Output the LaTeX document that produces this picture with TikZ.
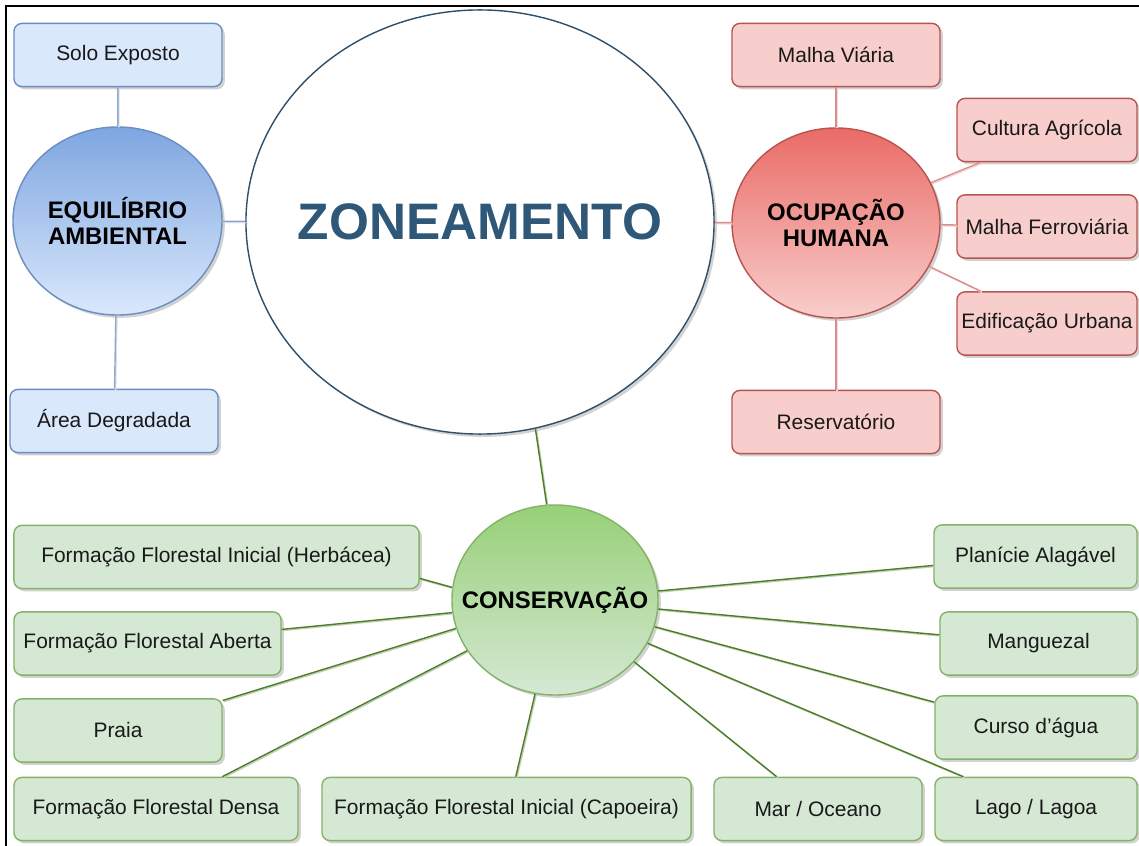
\documentclass[tikz,border=0pt]{standalone}
\usepackage{fontspec}
\setmainfont{Liberation Sans}
\tikzset{
every picture/.style={
line width=1pt
}}
\usetikzlibrary{shapes,shadows}

\definecolor{bluefill}{HTML}{DAE8FC}
\definecolor{blueline}{HTML}{6C8EBF}
\definecolor{bluetop}{HTML}{7EA6E0}
\definecolor{bluelink}{HTML}{8FA8C8}
\definecolor{redfill}{HTML}{F8CECC}
\definecolor{redline}{HTML}{B85450}
\definecolor{redtop}{HTML}{EA6B66}
\definecolor{redlink}{HTML}{D98F8D}
\definecolor{greenfill}{HTML}{D5E8D4}
\definecolor{greenline}{HTML}{82B366}
\definecolor{greentop}{HTML}{97D077}
\definecolor{greenlink}{HTML}{4D7C2A}
\definecolor{zoneline}{HTML}{2F4F6A}
\definecolor{zonetext}{HTML}{2F5878}

\begin{document}
\begin{tikzpicture}[x=0.025cm, y=-0.025cm,
box/.style = {rectangle, rounded corners=2mm, draw, inner sep=0pt, minimum height=1.58cm, text=black!90, font=\fontsize{14.9}{17}\selectfont, drop shadow={shadow xshift=2pt, shadow yshift=-2pt, fill=black!35}},
bluebox/.style = {box, draw=blueline, fill=bluefill},
redbox/.style = {box, draw=redline, fill=redfill},
greenbox/.style = {box, draw=greenline, fill=greenfill},
hub/.style = {ellipse, draw, inner sep=0pt, align=center, font=\fontsize{17}{18.5}\selectfont\bfseries, drop shadow={shadow xshift=2pt, shadow yshift=-2pt, fill=black!35}},
link/.style = {preaction={draw=#1!35, transform canvas={shift={(0.8pt,-0.8pt)}}}, draw=#1}]

\useasboundingbox (0,0) rectangle (1139,846);
\draw[line width=1.4pt] (6,846) -- (6,6) -- (1139,6);

\node[hub, draw=zoneline, fill=white, minimum width=11.7cm, minimum height=10.6cm, label={[font=\fontsize{36.5}{40}\selectfont\bfseries, text=zonetext]center:ZONEAMENTO}] (zone) at (480,222) {};

\node[hub, draw=blueline, top color=bluetop, bottom color=bluefill, minimum width=5.225cm, minimum height=4.7cm] (equil) at (117.5,221) {EQUIL\'IBRIO\\AMBIENTAL};
\node[bluebox, minimum width=5.2cm] (solo) at (118,55) {Solo Exposto};
\node[bluebox, minimum width=5.2cm] (area) at (114,421) {\'Area Degradada};

\node[hub, draw=redline, top color=redtop, bottom color=redfill, minimum width=5.2cm, minimum height=4.75cm] (ocup) at (836,223) {OCUPA\c{C}\~AO\\HUMANA};
\node[redbox, minimum width=5.2cm] (malhav) at (836,55) {Malha Vi\'aria};
\node[redbox, minimum width=4.5cm] (cultura) at (1047,130) {Cultura Agr\'icola};
\node[redbox, minimum width=4.5cm] (ferro) at (1047,226.5) {Malha Ferrovi\'aria};
\node[redbox, minimum width=4.5cm] (edif) at (1047,323.5) {Edifica\c{c}\~ao Urbana};
\node[redbox, minimum width=5.2cm] (reserv) at (836,422) {Reservat\'orio};

\node[hub, draw=greenline, top color=greentop, bottom color=greenfill, minimum width=5.15cm, minimum height=4.75cm, label={[font=\fontsize{17}{18.5}\selectfont\bfseries]center:CONSERVA\c{C}\~AO}] (cons) at (555,600) {};
\node[greenbox, minimum width=10.125cm] (herb) at (216.5,557) {Forma\c{c}\~ao Florestal Inicial (Herb\'acea)};
\node[greenbox, minimum width=6.675cm] (aberta) at (147.5,643.5) {Forma\c{c}\~ao Florestal Aberta};
\node[greenbox, minimum width=5.2cm] (praia) at (118,730.5) {Praia};
\node[greenbox, minimum width=7.1cm] (densa) at (156,809) {Forma\c{c}\~ao Florestal Densa};
\node[greenbox, minimum width=9.225cm] (capoeira) at (506.5,809) {Forma\c{c}\~ao Florestal Inicial (Capoeira)};
\node[greenbox, minimum width=5.2cm] (mar) at (818,809) {Mar / Oceano};
\node[greenbox, minimum width=5.05cm] (lago) at (1036,809) {Lago / Lagoa};
\node[greenbox, minimum width=5.05cm] (curso) at (1036,727.5) {Curso d’\'agua};
\node[greenbox, minimum width=4.925cm] (mangue) at (1038.5,643.5) {Manguezal};
\node[greenbox, minimum width=5.075cm] (planicie) at (1035.5,556.5) {Plan\'icie Alag\'avel};

\draw[link=bluelink] (solo) -- (equil);
\draw[link=bluelink] (area) -- (equil);
\draw[link=bluelink] (equil) -- (zone);

\draw[link=redlink] (zone) -- (ocup);
\draw[link=redlink] (malhav) -- (ocup);
\draw[link=redlink] (reserv) -- (ocup);
\draw[link=redlink] (ocup.23) -- (cultura.206);
\draw[link=redlink] (ocup) -- (ferro);
\draw[link=redlink] (ocup.-25) -- (edif.154);

\draw[link=greenlink] (zone.-75.3) -- (cons.95.4);
\draw[link=greenlink] (cons.173.4) -- (herb.-6.5);
\draw[link=greenlink] (cons.187.2) -- (aberta.6.6);
\draw[link=greenlink] (cons.196.7) -- (praia.16);
\draw[link=greenlink] (cons.210) -- (densa.26.6);
\draw[link=greenlink] (cons.258) -- (capoeira.74.7);
\draw[link=greenlink] (cons.-38.4) -- (mar.142);
\draw[link=greenlink] (cons.-25) -- (lago.156.4);
\draw[link=greenlink] (cons.-15.4) -- (curso.166);
\draw[link=greenlink] (cons.-5.5) -- (mangue.175);
\draw[link=greenlink] (cons.5) -- (planicie.185.9);
\end{tikzpicture}
\end{document}
